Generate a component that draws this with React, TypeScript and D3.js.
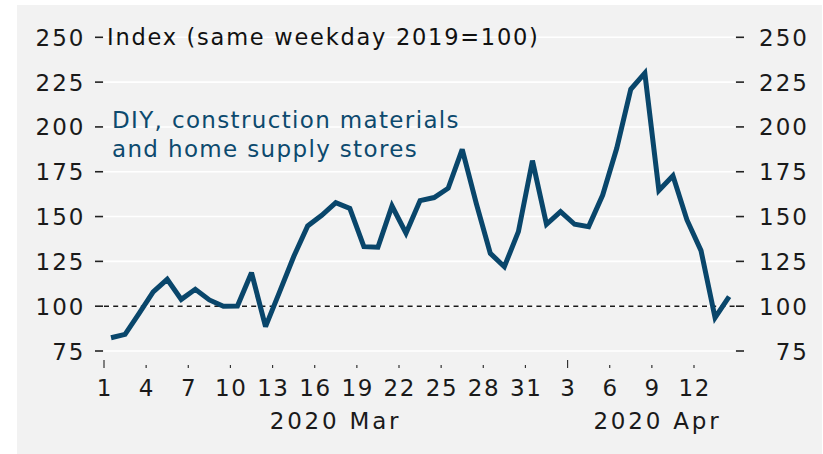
import React from "react";
import * as d3 from "d3";

// Data: daily index values, 1 Mar 2020 – 14 Apr 2020
const startDate = new Date(2020, 2, 1);
const values: number[] = [
  82.4, 84.3, 96, 108, 115, 103.8, 109.4, 103.5, 100, 100.1,
  118.7, 88.6, 108, 127.6, 144.8, 150.7, 157.8, 154.6, 133.2, 132.9,
  155.9, 140.7, 158.9, 160.6, 165.8, 187.5, 157.4, 129.5, 122, 141.6,
  181.2, 145.7, 152.7, 145.7, 144.4, 162, 188.1, 221, 230, 164.5,
  172.7, 148.1, 131, 93.6, 105.3,
];
const yTicks = [75, 100, 125, 150, 175, 200, 225, 250];
const xTickDays = [1, 4, 7, 10, 13, 16, 19, 22, 25, 28, 31, 34, 37, 40, 43];
const longTickDays = [1, 34];
const monthLabels = [
  { text: "2020 Mar", day: 17.4 },
  { text: "2020 Apr", day: 40.3 },
];
const title = "Index (same weekday 2019=100)";
const annotation = ["DIY, construction materials", "and home supply stores"];
const referenceValue = 100;

const W = 823;
const H = 454;
const plotLeft = 104;
const plotRight = 735;
const FONT = "'DejaVu Sans', sans-serif";
const LINE = "#09466b";
const TEXT_BLUE = "#0d4a6e";

const dayToDate = (d: number) => d3.timeDay.offset(startDate, d - 1);

export default function App() {
  const x = d3
    .scaleTime()
    .domain([dayToDate(1), dayToDate(43)])
    .range([plotLeft, 694]);
  const y = d3.scaleLinear().domain([75, 250]).range([351, 37.3]);

  const pts = values.map((v, i) => ({
    t: d3.timeHour.offset(dayToDate(i + 1), 12),
    v,
  }));
  const line = d3
    .line<{ t: Date; v: number }>()
    .x((d) => x(d.t))
    .y((d) => y(d.v));

  const fmtDay = d3.timeFormat("%-d");

  return (
    <svg
      width={W}
      height={H}
      style={{ position: "absolute", left: 0, top: 0, display: "block" }}
    >
      <rect x={0} y={0} width={W} height={H} fill="#ffffff" />
      <rect x={17} y={5} width={805} height={449} fill="#f2f2f2" />

      {/* gridlines */}
      {yTicks.map((t) => (
        <line
          key={"g" + t}
          x1={plotLeft}
          x2={plotRight}
          y1={y(t)}
          y2={y(t)}
          stroke="#ffffff"
          strokeWidth={1.6}
        />
      ))}

      {/* reference line */}
      <line
        x1={plotLeft}
        x2={plotRight}
        y1={y(referenceValue)}
        y2={y(referenceValue)}
        stroke="#1a1a1a"
        strokeWidth={1.4}
        strokeDasharray="5,4.2"
      />

      {/* left axis */}
      {yTicks.map((t) => (
        <g key={"l" + t}>
          <line
            x1={95}
            x2={103}
            y1={y(t)}
            y2={y(t)}
            stroke="#222"
            strokeWidth={1.6}
          />
          <text
            x={85.5}
            y={y(t) + 8.5}
            textAnchor="end"
            fontFamily={FONT}
            fontSize={23}
            letterSpacing={2}
            fill="#1a1a1a"
          >
            {t}
          </text>
        </g>
      ))}

      {/* right axis */}
      {yTicks.map((t) => (
        <g key={"r" + t}>
          <line
            x1={736}
            x2={744}
            y1={y(t)}
            y2={y(t)}
            stroke="#222"
            strokeWidth={1.6}
          />
          <text
            x={809}
            y={y(t) + 8.5}
            textAnchor="end"
            fontFamily={FONT}
            fontSize={23}
            letterSpacing={2}
            fill="#1a1a1a"
          >
            {t}
          </text>
        </g>
      ))}

      {/* x axis ticks */}
      {xTickDays.map((d) => {
        const xx = x(dayToDate(d));
        const long = longTickDays.includes(d);
        return (
          <g key={"x" + d}>
            <line
              x1={xx}
              x2={xx}
              y1={long ? 360 : 365}
              y2={368}
              stroke="#333"
              strokeWidth={1.2}
            />
            <text
              x={xx + 0.8}
              y={396}
              textAnchor="middle"
              fontFamily={FONT}
              fontSize={23}
              letterSpacing={1.6}
              fill="#1a1a1a"
            >
              {fmtDay(dayToDate(d))}
            </text>
          </g>
        );
      })}
      {monthLabels.map((m) => (
        <text
          key={m.text}
          x={x(d3.timeHour.offset(dayToDate(Math.floor(m.day)), (m.day % 1) * 24)) + 1.5}
          y={429}
          textAnchor="middle"
          fontFamily={FONT}
          fontSize={23}
          letterSpacing={2.8}
          fill="#1a1a1a"
        >
          {m.text}
        </text>
      ))}

      {/* series */}
      <path
        d={line(pts) || ""}
        fill="none"
        stroke={LINE}
        strokeWidth={5}
        strokeLinejoin="miter"
        strokeMiterlimit={3}
      />

      {/* title */}
      <text
        x={107}
        y={45}
        fontFamily={FONT}
        fontSize={22.5}
        letterSpacing={1.75}
        fill="#111"
      >
        {title}
      </text>

      {/* annotation */}
      {annotation.map((s, i) => (
        <text
          key={i}
          x={112}
          y={128 + i * 29}
          fontFamily={FONT}
          fontSize={23}
          letterSpacing={1.35}
          fill={TEXT_BLUE}
        >
          {s}
        </text>
      ))}
    </svg>
  );
}
